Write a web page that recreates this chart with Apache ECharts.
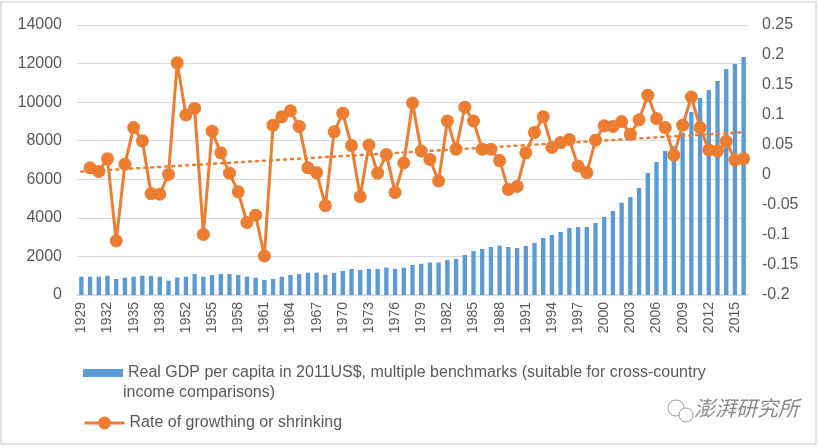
<!DOCTYPE html>
<html>
<head>
<meta charset="utf-8">
<script src="https://cdn.jsdelivr.net/npm/echarts@6/dist/echarts.min.js"></script>
<style>
html,body{margin:0;padding:0;background:#fff;}
#chart{width:819px;height:448px;}
</style>
</head>
<body>
<div id="chart"></div>
<script>
// Categories (years with data; 1939-1949 missing)
var years = ['1929','1930','1931','1932','1933','1934','1935','1936','1937','1938',
  '1950','1951','1952','1953','1954','1955','1956','1957','1958','1959',
  '1960','1961','1962','1963','1964','1965','1966','1967','1968','1969',
  '1970','1971','1972','1973','1974','1975','1976','1977','1978','1979',
  '1980','1981','1982','1983','1984','1985','1986','1987','1988','1989',
  '1990','1991','1992','1993','1994','1995','1996','1997','1998','1999',
  '2000','2001','2002','2003','2004','2005','2006','2007','2008','2009',
  '2010','2011','2012','2013','2014','2015','2016'];

// Real GDP per capita (2011 US$)
var gdp = [950,950,950,1000,830,900,950,1000,1000,950,
  740,900,950,1090,950,1040,1090,1090,1040,950,
  900,780,830,950,1040,1090,1160,1160,1050,1150,
  1250,1350,1300,1350,1350,1420,1350,1420,1560,1620,
  1680,1680,1815,1870,2075,2280,2385,2490,2560,2490,
  2440,2540,2700,2955,3110,3270,3475,3525,3525,3730,
  4045,4355,4785,5080,5550,6325,6895,7465,7725,8415,
  9490,10215,10630,11095,11720,11980,12340];

// Rate of growth or shrinking
var growth = [null,0.012,0.006,0.027,-0.11,0.018,0.079,0.057,-0.031,-0.032,
  0.001,0.187,0.1,0.111,-0.099,0.073,0.037,0.003,-0.028,-0.079,
  -0.067,-0.135,0.083,0.097,0.107,0.081,0.012,0.004,-0.051,0.072,
  0.103,0.049,-0.036,0.05,0.003,0.034,-0.029,0.02,0.12,0.04,
  0.026,-0.01,0.09,0.043,0.113,0.09,0.043,0.043,0.024,-0.024,
  -0.019,0.037,0.071,0.097,0.046,0.054,0.059,0.015,0.004,0.058,
  0.082,0.081,0.089,0.068,0.092,0.133,0.094,0.079,0.033,0.083,
  0.13,0.079,0.042,0.04,0.056,0.025,0.027];

// Linear trendline end values
var trendEnds = [0.0057, 0.0713];

var leftTicks = {min:0, max:14000, interval:2000};
var rightTicks = {min:-0.2, max:0.25, interval:0.05};

var barName = 'Real GDP per capita in 2011US$, multiple benchmarks (suitable for cross-country';
var barName2 = 'income comparisons)';
var lineName = 'Rate of growthing or shrinking';
var watermark = '澎湃研究所';

var FONT = '"Liberation Sans", Arial, sans-serif';
var TXT = '#595959';

var chart = echarts.init(document.getElementById('chart'), null, {renderer:'canvas'});
chart.setOption({
  animation:false,
  backgroundColor:'#fff',
  grid:{left:77, right:71, top:25, bottom:153, containLabel:false},
  legend:[{
    data:[{name:barName, icon:'rect'}],
    left:78, top:358,
    itemWidth:40, itemHeight:8,
    textStyle:{color:TXT, fontSize:16, fontFamily:FONT, lineHeight:20},
    selectedMode:false
  },{
    data:[{name:lineName}],
    left:78, top:408,
    itemWidth:40, itemHeight:16,
    lineStyle:{width:3},
    textStyle:{color:TXT, fontSize:16, fontFamily:FONT, lineHeight:20},
    selectedMode:false
  }],
  xAxis:{
    type:'category', data:years,
    axisLine:{lineStyle:{color:'#D9D9D9', width:1.5}},
    axisTick:{show:false},
    axisLabel:{interval:2, rotate:90, color:TXT, fontSize:14, fontFamily:FONT, margin:7}
  },
  yAxis:[{
    type:'value', min:leftTicks.min, max:leftTicks.max, interval:leftTicks.interval,
    axisLine:{show:false}, axisTick:{show:false},
    splitLine:{lineStyle:{color:'#D9D9D9', width:1}},
    axisLabel:{color:TXT, fontSize:16, fontFamily:FONT, margin:15,
      formatter:function(v){return String(v);}}
  },{
    type:'value', min:rightTicks.min, max:rightTicks.max, interval:rightTicks.interval,
    position:'right',
    axisLine:{show:false}, axisTick:{show:false}, splitLine:{show:false},
    axisLabel:{color:TXT, fontSize:16, fontFamily:FONT, margin:14,
      formatter:function(v){return String(+v.toFixed(2));}}
  }],
  series:[{
    name:barName, type:'bar', data:gdp, yAxisIndex:0,
    barWidth:'50%', itemStyle:{color:'#5B9BD5'}, z:1
  },{
    name:'trend', type:'line', yAxisIndex:1,
    data:[[years[0], trendEnds[0]], [years[years.length-1], trendEnds[1]]],
    symbol:'none', lineStyle:{color:'#ED7D31', width:2.5, type:[2,5], cap:'round'},
    z:2, silent:true
  },{
    name:lineName, type:'line', data:growth, yAxisIndex:1,
    symbol:'circle', symbolSize:13, showAllSymbol:true,
    itemStyle:{color:'#ED7D31'}, lineStyle:{color:'#ED7D31', width:3},
    z:3
  }],
  graphic:[
    {type:'rect', shape:{x:1, y:2, width:815, height:442}, style:{fill:'none', stroke:'#D9D9D9', lineWidth:1.5}, silent:true, z:-1},
    {type:'text', left:123, top:385, style:{text:barName2, fill:TXT, font:'16px '+FONT}},
    {type:'circle', shape:{cx:676, cy:408, r:8}, style:{fill:'none', stroke:'#9a9a9a', lineWidth:1}},
    {type:'circle', shape:{cx:686, cy:415, r:7}, style:{fill:'#fff', stroke:'#9a9a9a', lineWidth:1}},
    {type:'text', left:694, top:398, style:{text:watermark, fill:'#8a8a8a', font:'italic 21px "Noto Sans CJK SC", sans-serif'}}
  ]
});
</script>
</body>
</html>
